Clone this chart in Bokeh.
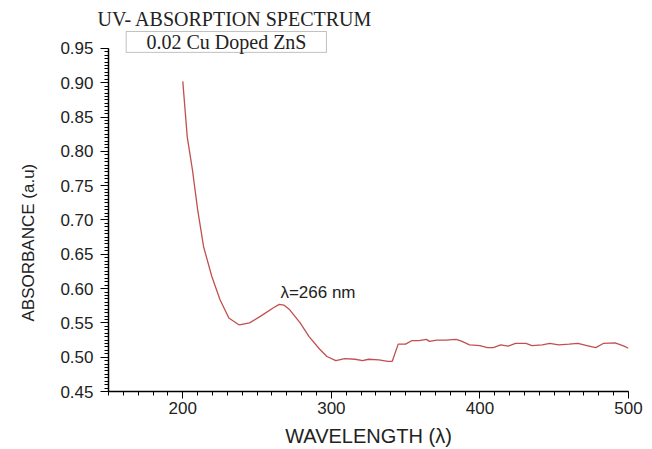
from bokeh.plotting import figure
from bokeh.models import Range1d, SingleIntervalTicker, PrintfTickFormatter, Label, BoxAnnotation, Title
from bokeh.embed import file_html
from bokeh.resources import INLINE

wavelength = [200, 203, 206.5, 210, 214, 219.5, 225, 231, 238, 245, 254, 261, 265, 268, 272,
              279, 285, 292, 297, 303, 309, 316, 321, 325, 332, 338, 341, 345, 350, 354,
              359, 364, 366, 371, 377, 384, 388, 393, 400, 405, 409, 414, 419, 424, 431,
              435, 442, 447, 453, 460, 466, 472, 478, 483, 491, 497, 500]
absorbance = [0.902, 0.821, 0.773, 0.715, 0.661, 0.618, 0.584, 0.557, 0.547, 0.550, 0.562, 0.572, 0.577, 0.576, 0.569,
              0.550, 0.530, 0.512, 0.501, 0.495, 0.498, 0.497, 0.495, 0.497, 0.496, 0.494, 0.494, 0.519, 0.519, 0.524,
              0.524, 0.526, 0.523, 0.525, 0.525, 0.526, 0.523, 0.518, 0.517, 0.514, 0.514, 0.518, 0.516, 0.520, 0.520,
              0.517, 0.518, 0.520, 0.518, 0.519, 0.520, 0.517, 0.514, 0.520, 0.521, 0.516, 0.513]

title_text = "UV- ABSORPTION SPECTRUM"
legend_text = "0.02 Cu Doped ZnS"
peak_text = "\u03bb=266 nm"
x_label = "WAVELENGTH (\u03bb)"
y_label = "ABSORBANCE (a.u)"

p = figure(width=652, height=449, output_backend="svg", toolbar_location=None,
           x_range=Range1d(150, 500), y_range=Range1d(0.45, 0.9761),
           min_border_left=108, min_border_right=24, min_border_top=30, min_border_bottom=56)
p.outline_line_color = None
p.grid.visible = False
p.background_fill_color = "white"
p.border_fill_color = "white"

p.title.text = title_text
p.title.align = "left"
p.title.offset = -11
p.title.standoff = 1
p.title.text_font = "Liberation Serif"
p.title.text_font_size = "20px"
p.title.text_font_style = "normal"
p.title.text_color = "#222222"

p.line(wavelength, absorbance, line_color="#c0504d", line_width=1.3)

p.xaxis.ticker = SingleIntervalTicker(interval=100, num_minor_ticks=10)
p.yaxis.ticker = SingleIntervalTicker(interval=0.05, num_minor_ticks=10)
p.yaxis.bounds = (0.45, 0.9501)
p.yaxis.formatter = PrintfTickFormatter(format="%.2f")

for ax in (p.xaxis[0], p.yaxis[0]):
    ax.axis_line_width = 1.5
    ax.axis_line_color = "black"
    ax.major_tick_line_color = "black"
    ax.minor_tick_line_color = "black"
    ax.major_tick_in = 0
    ax.minor_tick_in = 0
    ax.major_label_text_font = "Liberation Sans"
    ax.major_label_text_font_size = "17px"
    ax.major_label_text_color = "#222222"
    ax.axis_label_text_font = "Liberation Sans"
    ax.axis_label_text_font_style = "normal"
    ax.axis_label_text_color = "#222222"

p.xaxis.major_tick_out = 7
p.xaxis.minor_tick_out = 4
p.xaxis.major_label_standoff = 3
p.xaxis.axis_label = x_label
p.xaxis.axis_label_text_font_size = "20px"
p.xaxis.axis_label_standoff = 8

p.yaxis.major_tick_out = 8
p.yaxis.minor_tick_out = 4
p.yaxis.major_label_standoff = 7

ytitle = Title(text=y_label, align="left", offset=70, standoff=35, vertical_align="top",
               text_font="Liberation Sans", text_font_size="17px",
               text_font_style="normal", text_color="#222222")
p.add_layout(ytitle, "left")

p.add_layout(BoxAnnotation(left=161.9, right=296.7, bottom=0.9442, top=0.9746,
                           fill_alpha=0, line_color="#333333", line_width=1))
p.add_layout(Label(x=229.4, y=0.9594, text=legend_text, text_font="Liberation Serif",
                   text_font_size="20px", text_color="#222222", text_align="center",
                   text_baseline="middle"))
p.add_layout(Label(x=265.7, y=0.595, text=peak_text, text_font="Liberation Sans",
                   text_font_size="17px", text_color="#222222", text_baseline="middle"))

open("out.html", "w").write(file_html(p, INLINE))
